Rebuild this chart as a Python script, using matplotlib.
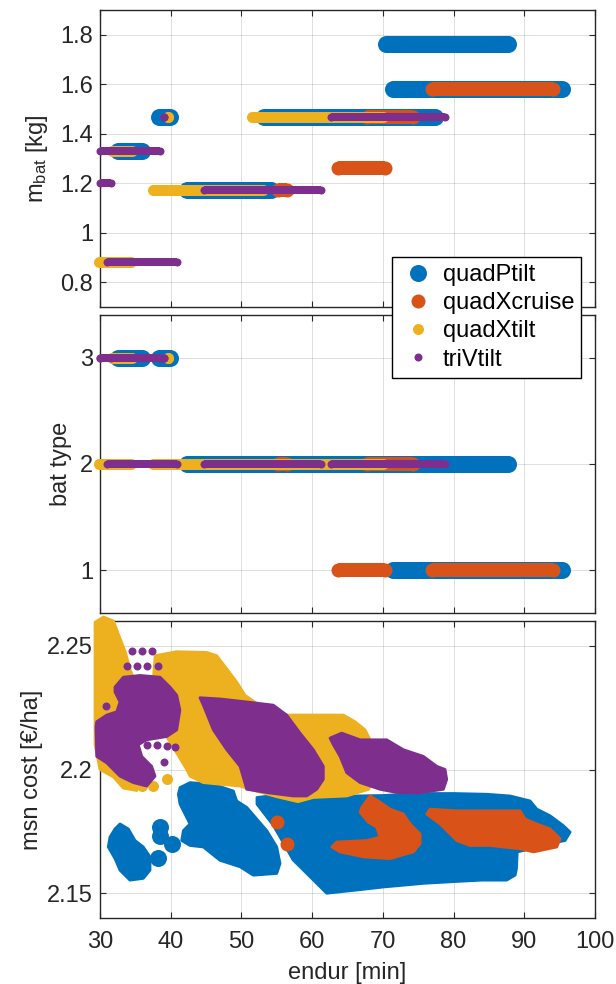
import matplotlib
matplotlib.use("Agg")
import matplotlib.pyplot as plt
from matplotlib.lines import Line2D

plt.rcParams["font.family"] = ["Liberation Sans", "DejaVu Sans"]
plt.rcParams["mathtext.fontset"] = "custom"
plt.rcParams["mathtext.rm"] = "Liberation Sans"
plt.rcParams["mathtext.it"] = "Liberation Sans:italic"

series = ["quadPtilt", "quadXcruise", "quadXtilt", "triVtilt"]
colors = ["#0072BD", "#D95319", "#EDB120", "#7E2F8E"]
marker_px = [17, 14, 11, 8]

# Battery choices per configuration:
# (battery mass [kg], battery type, shortest endurance [min], longest endurance [min])
quadPtilt_batt = [
    (1.763, 2, 70.5, 87.7),
    (1.580, 1, 71.4, 95.3),
    (1.467, 2, 53.2, 77.4),
    (1.467, 3, 38.4, 39.95),
    (1.330, 3, 32.5, 35.9),
    (1.173, 2, 42.35, 54.2),
]
quadXcruise_batt = [
    (1.580, 1, 77.0, 94.1),
    (1.263, 1, 63.7, 70.3),
    (1.467, 2, 67.7, 74.3),
    (1.173, 2, 55.2, 56.4),
]
quadXtilt_batt = [
    (1.467, 2, 51.5, 70.0),
    (1.467, 3, 39.65, 39.65),
    (1.330, 3, 31.7, 34.5),
    (1.173, 2, 37.5, 53.0),
    (0.882, 2, 29.9, 34.4),
]
triVtilt_batt = [
    (1.467, 2, 62.65, 78.75),
    (1.467, 3, 39.05, 39.05),
    (1.330, 3, 30.07, 38.5),
    (1.200, 3, 30.07, 31.6),
    (1.173, 2, 44.7, 61.3),
    (0.882, 2, 31.0, 40.9),
]

# Mission cost vs endurance: outlines of the regions covered by the design points
quadPtilt_regions = [
    [(32.83, 2.178), (34.0, 2.176), (34.95, 2.1713), (36.12, 2.1687), (37.07, 2.1647),
     (37.07, 2.1593), (36.12, 2.156), (34.24, 2.1553), (32.83, 2.1593), (32.12, 2.164),
     (31.17, 2.1687), (31.41, 2.1727), (32.12, 2.176)],
    [(41.32, 2.1927), (42.73, 2.1947), (46.03, 2.194), (48.86, 2.1913), (49.33, 2.1873),
     (50.75, 2.1847), (53.58, 2.1753), (54.99, 2.1687), (55.46, 2.162), (54.99, 2.158),
     (51.68, 2.1573), (49.80, 2.1607), (46.97, 2.1633), (44.61, 2.1687), (42.73, 2.1693),
     (41.55, 2.1713), (41.79, 2.1753), (42.73, 2.178), (41.32, 2.186), (41.08, 2.19)],
    [(52.2, 2.1887), (54.0, 2.1893), (58.0, 2.1887), (62.0, 2.189), (66.0, 2.1893),
     (70.0, 2.1895), (75.0, 2.1903), (80.0, 2.1903), (84.7, 2.19), (88.0, 2.1893),
     (90.82, 2.1873), (91.77, 2.184), (93.65, 2.1813), (95.53, 2.1773), (96.48, 2.1747),
     (95.77, 2.1713), (93.5, 2.170), (91.0, 2.168), (89.0, 2.1667), (88.9, 2.160),
     (88.7, 2.1573), (87.5, 2.1553), (84.0, 2.1553), (80.0, 2.1547), (75.73, 2.154),
     (70.0, 2.1525), (66.3, 2.1513), (62.06, 2.150), (57.3, 2.1635), (54.5, 2.1775),
     (52.2, 2.186)],
]
quadPtilt_points = [(38.49, 2.1767), (38.49, 2.1733), (40.14, 2.1697), (38.25, 2.1644)]

quadXcruise_regions = [
    [(66.78, 2.1827), (67.01, 2.1847), (68.19, 2.1893), (69.37, 2.1873), (71.02, 2.184),
     (72.9, 2.182), (73.85, 2.178), (75.26, 2.174), (75.26, 2.170), (74.32, 2.1667),
     (71.02, 2.164), (67.24, 2.1647), (63.95, 2.1667), (62.77, 2.1687), (63.48, 2.1707),
     (67.71, 2.1713), (69.6, 2.1727), (69.13, 2.1767), (67.95, 2.1787)],
    [(76.2, 2.182), (76.68, 2.184), (80.45, 2.1833), (84.0, 2.1833), (89.4, 2.1833),
     (90.1, 2.180), (91.77, 2.178), (93.65, 2.176), (95.06, 2.172), (94.6, 2.1687),
     (91.3, 2.1667), (89.4, 2.168), (87.04, 2.1687), (85.16, 2.1693), (82.33, 2.1693),
     (80.45, 2.1713), (78.1, 2.178)],
]
quadXcruise_points = [(54.99, 2.1787), (56.4, 2.170)]

quadXtilt_regions = [
    [(29.3, 2.2595), (30.5, 2.2616), (31.9, 2.260), (32.6, 2.2547), (33.6, 2.2473),
     (34.3, 2.240), (35.5, 2.232), (36.0, 2.220), (35.4, 2.210), (35.2, 2.200),
     (35.2, 2.1915), (33.3, 2.1925), (31.9, 2.197), (30.0, 2.200), (29.3, 2.210)],
    [(37.8, 2.246), (40.85, 2.2476), (45.09, 2.2473), (46.5, 2.246), (47.92, 2.2407),
     (49.33, 2.2353), (50.5, 2.230), (52.5, 2.226), (55.46, 2.222), (58.29, 2.222),
     (61.58, 2.222), (64.41, 2.222), (66.07, 2.2193), (67.48, 2.216), (68.19, 2.212),
     (68.6, 2.205), (68.7, 2.196), (68.0, 2.192), (64.88, 2.1893), (60.17, 2.1887),
     (58.0, 2.1870), (55.0, 2.189), (51.2, 2.192), (49.8, 2.1933), (44.61, 2.1947),
     (42.73, 2.1973), (42.26, 2.200), (40.85, 2.2067), (39.43, 2.2133), (38.5, 2.220),
     (37.5, 2.235)],
]
quadXtilt_points = [(39.5, 2.196), (36.0, 2.1935), (37.5, 2.1935)]

triVtilt_regions = [
    [(32.12, 2.2333), (33.3, 2.2373), (35.66, 2.238), (38.49, 2.2373), (39.9, 2.2333),
     (40.85, 2.230), (41.3, 2.224), (40.85, 2.216), (39.43, 2.2133), (36.6, 2.212),
     (35.42, 2.210), (35.9, 2.2053), (37.3, 2.2013), (37.78, 2.1973), (36.6, 2.1933),
     (34.71, 2.1947), (32.83, 2.1973), (30.94, 2.2027), (29.53, 2.2053), (29.43, 2.2173),
     (29.53, 2.2193), (30.94, 2.222), (32.36, 2.2233), (32.83, 2.2273), (32.12, 2.2313)],
    [(44.14, 2.2290), (47.0, 2.2285), (50.75, 2.2273), (54.51, 2.226), (56.4, 2.222),
     (58.29, 2.2147), (60.17, 2.208), (61.58, 2.2013), (61.58, 2.196), (60.65, 2.192),
     (59.23, 2.1893), (57.34, 2.1893), (54.0, 2.1905), (50.75, 2.192), (49.8, 2.2013),
     (47.92, 2.208), (46.03, 2.216), (44.61, 2.226)],
    [(62.53, 2.2127), (64.18, 2.2147), (66.78, 2.212), (70.55, 2.212), (72.9, 2.208),
     (75.73, 2.2053), (77.62, 2.2013), (78.8, 2.200), (79.03, 2.196), (78.56, 2.192),
     (75.0, 2.1905), (71.96, 2.1907), (69.6, 2.192), (66.78, 2.1947), (64.89, 2.1987),
     (63.95, 2.2053), (63.0, 2.210)],
]
triVtilt_points = [(34.48, 2.248), (35.9, 2.248), (37.31, 2.248),
                   (33.77, 2.242), (35.19, 2.242), (36.6, 2.242), (38.25, 2.242),
                   (30.85, 2.2257), (36.6, 2.210), (38.0, 2.210), (39.43, 2.2095),
                   (40.6, 2.209), (39.05, 2.2031)]

batt_data = [quadPtilt_batt, quadXcruise_batt, quadXtilt_batt, triVtilt_batt]
cost_regions = [quadPtilt_regions, quadXcruise_regions, quadXtilt_regions, triVtilt_regions]
cost_points = [quadPtilt_points, quadXcruise_points, quadXtilt_points, triVtilt_points]

W, H, DPI = 616, 984, 100
fig = plt.figure(figsize=(W / DPI, H / DPI), dpi=DPI)

ink = "#262626"
FS = 17
left, right = 100, 595
boxes = [(10, 307), (315, 613), (621, 918)]
axes = []
for top, bot in boxes:
    ax = fig.add_axes([left / W, 1 - bot / H, (right - left) / W, (bot - top) / H])
    axes.append(ax)
ax1, ax2, ax3 = axes

px2pt = 72.0 / DPI

for k in range(4):
    d = marker_px[k] * px2pt
    for m, t, lo, hi in batt_data[k]:
        for ax, yv in ((ax1, m), (ax2, t)):
            ax.plot([lo, hi], [yv, yv], color=colors[k], lw=d, solid_capstyle="butt",
                    marker="o", ms=d, mec="none", mfc=colors[k], zorder=2 + k,
                    clip_on=False)
    for poly in cost_regions[k]:
        xs = [p[0] for p in poly]
        ys = [p[1] for p in poly]
        ax3.fill(xs, ys, facecolor=colors[k], edgecolor=colors[k], lw=2.0,
                 joinstyle="round", zorder=2 + k, clip_on=False)
    if cost_points[k]:
        ax3.scatter([p[0] for p in cost_points[k]], [p[1] for p in cost_points[k]],
                    s=d ** 2, color=colors[k], linewidths=0, zorder=2 + k, clip_on=False)

for ax in axes:
    ax.set_xlim(30, 100)
    ax.set_xticks(range(30, 101, 10))
    ax.grid(True, color=ink, alpha=0.15, lw=0.7)
    ax.set_axisbelow(True)
    for s in ax.spines.values():
        s.set_color(ink)
        s.set_linewidth(1.0)
    ax.tick_params(direction="in", top=True, right=True, length=4.5, width=0.8,
                   colors=ink, labelsize=FS, pad=5)

ax1.set_ylim(0.7, 1.9)
ax1.set_yticks([0.8, 1.0, 1.2, 1.4, 1.6, 1.8])
ax1.set_yticklabels(["0.8", "1", "1.2", "1.4", "1.6", "1.8"])
ax2.set_ylim(0.6, 3.4)
ax2.set_yticks([1, 2, 3])
ax3.set_ylim(2.14, 2.26)
ax3.set_yticks([2.15, 2.2, 2.25])
ax3.set_yticklabels(["2.15", "2.2", "2.25"])
ax1.tick_params(labelbottom=False)
ax2.tick_params(labelbottom=False)
ax3.tick_params(axis="x", pad=9)

ax1.set_ylabel(r"m$_{\rm bat}$ [kg]", fontsize=FS, color=ink, va="center")
ax1.yaxis.set_label_coords(-0.128, 0.5)
ax2.set_ylabel("bat type", fontsize=FS, color=ink, va="center")
ax2.yaxis.set_label_coords(-0.078, 0.5)
ax3.set_ylabel("msn cost [€/ha]", fontsize=FS, color=ink, va="center")
ax3.yaxis.set_label_coords(-0.138, 0.5)
ax3.set_xlabel("endur [min]", fontsize=FS, color=ink, labelpad=7)

handles = [Line2D([], [], ls="none", marker="o", ms=marker_px[k] * px2pt,
                  mfc=colors[k], mec="none") for k in range(4)]
leg = fig.legend(handles, series, loc="upper left",
                 bbox_to_anchor=(392 / W, 1 - 257 / H), borderaxespad=0,
                 fontsize=FS, frameon=True, fancybox=False, framealpha=1,
                 edgecolor="#000000", borderpad=0.3, labelspacing=0.26,
                 handlelength=1.6, handletextpad=0.25)
leg.get_frame().set_linewidth(1.0)
leg.set_zorder(20)

fig.savefig("out.png", dpi=DPI)
